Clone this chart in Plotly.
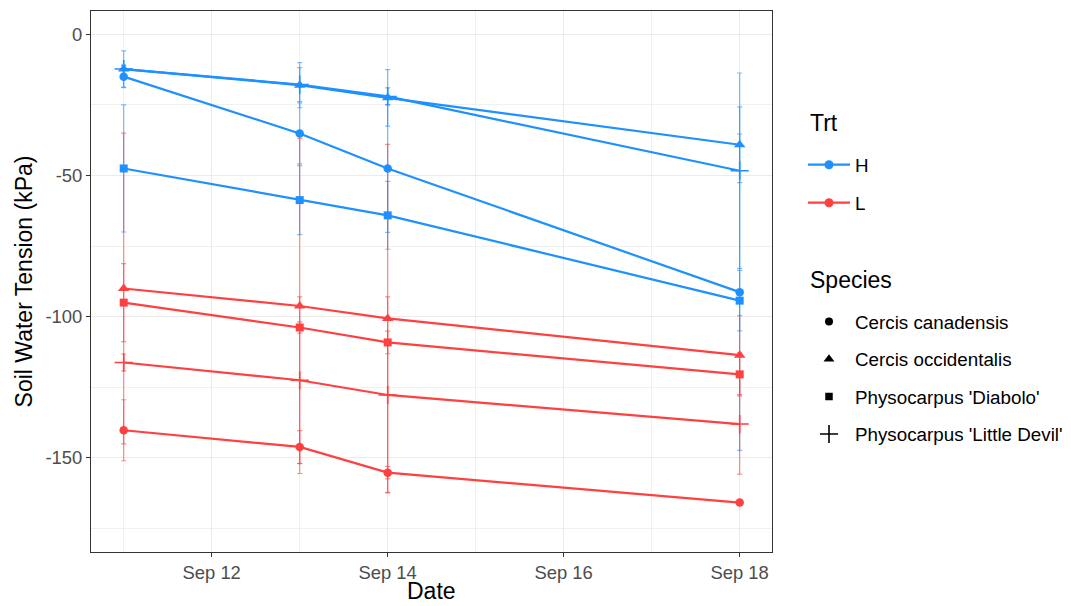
import plotly.graph_objects as go

# ---- data ----
dates = ["2021-09-11", "2021-09-13", "2021-09-14", "2021-09-18"]
species = ["Cercis canadensis", "Cercis occidentalis",
           "Physocarpus 'Diabolo'", "Physocarpus 'Little Devil'"]
treatments = ["H", "L"]

h_canadensis = [-15.0, -35.1, -47.5, -91.3]
h_occidentalis = [-12.3, -18.0, -22.5, -39.1]
h_diabolo = [-47.5, -58.7, -64.1, -94.3]
h_littledevil = [-12.3, -17.8, -22.0, -48.3]
l_canadensis = [-140.2, -146.1, -155.2, -165.8]
l_occidentalis = [-90.0, -96.2, -100.6, -113.6]
l_diabolo = [-95.0, -103.8, -109.1, -120.4]
l_littledevil = [-116.2, -122.5, -127.7, -138.0]

h_canadensis_se = [3.9, 10.8, 22.6, 56.0]
h_occidentalis_se = [6.4, 8.0, 10.0, 13.4]
h_diabolo_se = [22.5, 12.2, 12.0, 10.7]
h_littledevil_se = [1.5, 6.0, 3.0, 34.6]
l_canadensis_se = [10.8, 5.8, 2.2, 1.0]
l_occidentalis_se = [55.0, 59.3, 61.6, 14.0]
l_diabolo_se = [13.8, 2.0, 4.0, 7.6]
l_littledevil_se = [3.0, 29.5, 34.7, 17.7]

x_tickvals = ["2021-09-12", "2021-09-14", "2021-09-16", "2021-09-18"]
x_ticktext = ["Sep 12", "Sep 14", "Sep 16", "Sep 18"]
x_minor = ["2021-09-11", "2021-09-13", "2021-09-15", "2021-09-17"]
y_tickvals = [0, -50, -100, -150]
y_ticktext = ["0", "-50", "-100", "-150"]
y_minor = [-25, -75, -125, -175]

# ---- styles ----
trt_colors = {"H": "#1E90FF", "L": "#FF4040"}
err_colors = {"H": "rgba(30,144,255,0.6)", "L": "rgba(255,64,64,0.6)"}
sym = {
    "Cercis canadensis": ("circle", 8.5),
    "Cercis occidentalis": ("triangle-up", 10),
    "Physocarpus 'Diabolo'": ("square", 8),
    "Physocarpus 'Little Devil'": ("cross-thin", 13),
}

series = {
    ("H", species[0]): (h_canadensis, h_canadensis_se),
    ("H", species[1]): (h_occidentalis, h_occidentalis_se),
    ("H", species[2]): (h_diabolo, h_diabolo_se),
    ("H", species[3]): (h_littledevil, h_littledevil_se),
    ("L", species[0]): (l_canadensis, l_canadensis_se),
    ("L", species[1]): (l_occidentalis, l_occidentalis_se),
    ("L", species[2]): (l_diabolo, l_diabolo_se),
    ("L", species[3]): (l_littledevil, l_littledevil_se),
}

FONT = "Liberation Sans, Arial, Helvetica, sans-serif"
fig = go.Figure()

# error bars first (below lines)
for trt in treatments:
    for sp in species:
        vals, se = series[(trt, sp)]
        fig.add_trace(go.Scatter(
            x=dates, y=vals, mode="markers",
            marker=dict(size=1, color="rgba(0,0,0,0)"),
            error_y=dict(type="data", array=se, visible=True,
                         color=err_colors[trt], thickness=1.2, width=2.5),
            showlegend=False, hoverinfo="skip"))

# lines + points
for trt in treatments:
    for sp in species:
        vals, se = series[(trt, sp)]
        s, sz = sym[sp]
        c = trt_colors[trt]
        if s == "cross-thin":
            marker = dict(symbol=s, size=sz, color=c, line=dict(width=1.6, color=c))
        else:
            marker = dict(symbol=s, size=sz, color=c, line=dict(width=0))
        fig.add_trace(go.Scatter(
            x=dates, y=vals, mode="lines+markers",
            line=dict(color=c, width=2.2), marker=marker,
            name=f"{trt} {sp}", showlegend=False))

# legend entries (each in its own legend box for ggplot-like spacing)
def px_to_py(ypx):
    return (552 - ypx) / 541.0

leg_x = (803 - 91) / 681.0
legend_items = []
for i, trt in enumerate(treatments):
    legend_items.append((trt, dict(mode="lines+markers",
                                   line=dict(color=trt_colors[trt], width=2.2),
                                   marker=dict(symbol="circle", size=9, color=trt_colors[trt]))))
for sp in species:
    s, sz = sym[sp]
    if s == "cross-thin":
        mk = dict(symbol=s, size=13, color="black", line=dict(width=1.6, color="black"))
    else:
        mk = dict(symbol=s, size=sz - 0.5, color="black", line=dict(width=0))
    legend_items.append((sp, dict(mode="markers", marker=mk)))

item_y = [165, 203, 321.7, 359.3, 396.7, 434.3]
layout_legends = {}
for k, ((name, kw), ypx) in enumerate(zip(legend_items, item_y)):
    lname = "legend" if k == 0 else f"legend{k+1}"
    fig.add_trace(go.Scatter(x=[None], y=[None], name=name, legend=lname,
                             showlegend=True, **kw))
    layout_legends[lname] = dict(
        x=leg_x, y=px_to_py(ypx), xanchor="left", yanchor="middle",
        bgcolor="rgba(0,0,0,0)", font=dict(family=FONT, size=18.8, color="black"),
        itemwidth=42)

fig.update_layout(**layout_legends)

fig.add_annotation(text="Trt", x=(808 - 91) / 681.0, y=px_to_py(123),
                   xref="paper", yref="paper", xanchor="left", yanchor="middle",
                   showarrow=False, font=dict(family=FONT, size=23, color="black"))
fig.add_annotation(text="Species", x=(808 - 91) / 681.0, y=px_to_py(280),
                   xref="paper", yref="paper", xanchor="left", yanchor="middle",
                   showarrow=False, font=dict(family=FONT, size=23, color="black"))
# x-axis title placed precisely (kept inside the page)
fig.add_annotation(text="Date", x=0.5, y=px_to_py(605),
                   xref="paper", yref="paper", xanchor="center", yanchor="bottom",
                   borderpad=0, showarrow=False,
                   font=dict(family=FONT, size=23, color="black"))

axis_common = dict(
    showline=True, linecolor="#333333", linewidth=1.2, mirror=True,
    showgrid=True, gridcolor="#EBEBEB", gridwidth=1.4,
    ticks="outside", ticklen=4, tickcolor="#333333", tickwidth=1.1,
    tickfont=dict(family=FONT, size=18.4, color="#4D4D4D"),
    zeroline=False, automargin=False,
)

fig.update_xaxes(
    type="date", range=["2021-09-10 15:05", "2021-09-18 08:49"],
    tickmode="array", tickvals=x_tickvals, ticktext=x_ticktext,
    minor=dict(tickvals=x_minor, showgrid=True, gridcolor="#F0F0F0", gridwidth=0.8, ticks=""),
    **axis_common)
fig.update_yaxes(
    range=[-183.3, 8.25],
    tickmode="array", tickvals=y_tickvals, ticktext=y_ticktext,
    minor=dict(tickvals=y_minor, showgrid=True, gridcolor="#F0F0F0", gridwidth=0.8, ticks=""),
    title=dict(text="Soil Water Tension (kPa)", font=dict(family=FONT, size=23, color="black"), standoff=6),
    **axis_common)

fig.update_layout(
    width=1071, height=606,
    margin=dict(l=91, r=299, t=11, b=54, pad=0, autoexpand=False),
    plot_bgcolor="white", paper_bgcolor="white",
    font=dict(family=FONT),
)

fig.write_html("out.html")
